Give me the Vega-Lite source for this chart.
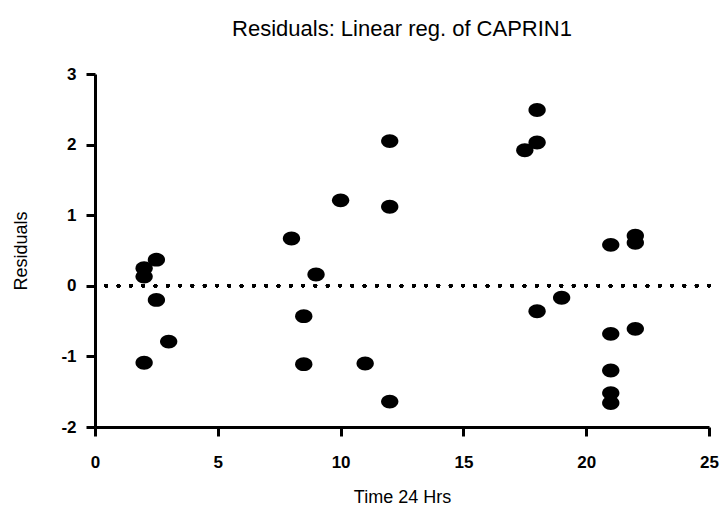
{
  "$schema": "https://vega.github.io/schema/vega-lite/v6.json",
  "width": 614,
  "height": 353,
  "autosize": {"type": "none"},
  "padding": {"left": 95, "top": 74, "right": 14, "bottom": 84},
  "background": "white",
  "title": {
    "text": "Residuals: Linear reg. of CAPRIN1",
    "font": "Liberation Sans",
    "fontSize": 22,
    "fontWeight": "normal",
    "color": "black",
    "anchor": "middle",
    "offset": 24
  },
  "config": {
    "view": {"stroke": null},
    "axis": {
      "domainColor": "black",
      "domainWidth": 3,
      "tickColor": "black",
      "tickWidth": 3,
      "tickSize": 9,
      "grid": false,
      "labelFont": "Liberation Sans",
      "labelFontWeight": "bold",
      "labelFontSize": 17,
      "labelColor": "black",
      "titleFont": "Liberation Sans",
      "titleFontWeight": "normal",
      "titleFontSize": 18,
      "titleColor": "black"
    }
  },
  "data": {
    "values": [
      {"time": 2.0, "residual": 0.25},
      {"time": 2.0, "residual": 0.13},
      {"time": 2.5, "residual": 0.37},
      {"time": 2.5, "residual": -0.2},
      {"time": 3.0, "residual": -0.79},
      {"time": 2.0, "residual": -1.09},
      {"time": 8.0, "residual": 0.67},
      {"time": 8.5, "residual": -0.43},
      {"time": 8.5, "residual": -1.11},
      {"time": 9.0, "residual": 0.16},
      {"time": 10.0, "residual": 1.21},
      {"time": 11.0, "residual": -1.1},
      {"time": 12.0, "residual": 2.05},
      {"time": 12.0, "residual": 1.12},
      {"time": 12.0, "residual": -1.64},
      {"time": 17.5, "residual": 1.92},
      {"time": 18.0, "residual": 2.49},
      {"time": 18.0, "residual": 2.03},
      {"time": 18.0, "residual": -0.36},
      {"time": 19.0, "residual": -0.17},
      {"time": 21.0, "residual": 0.58},
      {"time": 21.0, "residual": -0.68},
      {"time": 21.0, "residual": -1.2},
      {"time": 21.0, "residual": -1.52},
      {"time": 21.0, "residual": -1.66},
      {"time": 22.0, "residual": 0.71},
      {"time": 22.0, "residual": 0.61},
      {"time": 22.0, "residual": -0.61}
    ]
  },
  "layer": [
    {
      "mark": {
        "type": "rule",
        "color": "black",
        "strokeWidth": 3.5,
        "strokeDash": [0.1, 12.2],
        "strokeCap": "round"
      },
      "encoding": {
        "y": {"datum": 0, "type": "quantitative"}
      }
    },
    {
      "mark": {
        "type": "point",
        "shape": "M-1,0A1,0.8,0,1,1,1,0A1,0.8,0,1,1,-1,0Z",
        "size": 300,
        "filled": true,
        "color": "black",
        "opacity": 1,
        "strokeWidth": 0
      },
      "encoding": {
        "x": {
          "field": "time",
          "type": "quantitative",
          "scale": {"domain": [0, 25], "nice": false, "zero": false},
          "axis": {
            "title": "Time 24 Hrs",
            "values": [0, 5, 10, 15, 20, 25],
            "labelExpr": "'' + datum.value",
            "labelPadding": 18,
            "titlePadding": 18,
            "labelFlush": false
          }
        },
        "y": {
          "field": "residual",
          "type": "quantitative",
          "scale": {"domain": [-2, 3], "nice": false, "zero": false},
          "axis": {
            "title": "Residuals",
            "values": [-2, -1, 0, 1, 2, 3],
            "labelExpr": "'' + datum.value",
            "labelPadding": 10,
            "titlePadding": 30,
            "labelFlush": false
          }
        }
      }
    }
  ]
}
